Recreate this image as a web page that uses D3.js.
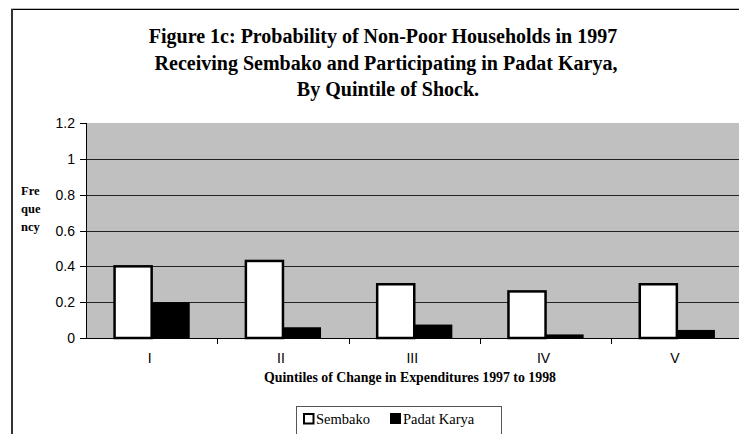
<html>
<head>
<meta charset="utf-8">
<title>Figure 1c</title>
<script src="https://d3js.org/d3.v7.min.js"></script>
<style>
  body { margin: 0; background: #fff; }
  .serif { font-family: "Liberation Serif", "DejaVu Serif", serif; }
  .sans { font-family: "Liberation Sans", Arial, sans-serif; }
</style>
</head>
<body>
<svg width="739" height="434"></svg>
<script>
// data
var quintiles = ["I", "II", "III", "IV", "V"];
var sembako = [0.40, 0.43, 0.30, 0.26, 0.30];
var padatKarya = [0.20, 0.06, 0.075, 0.02, 0.045];
var yTicks = [0, 0.2, 0.4, 0.6, 0.8, 1, 1.2];
var seriesNames = ["Sembako", "Padat Karya"];

var svg = d3.select("svg");

// outer frame
svg.append("line").attr("x1", 11).attr("x2", 739).attr("y1", 8.5).attr("y2", 8.5)
  .attr("stroke", "#bbb").attr("stroke-width", 1);
svg.append("line").attr("x1", 11).attr("x2", 739).attr("y1", 9.5).attr("y2", 9.5)
  .attr("stroke", "#000").attr("stroke-width", 1);
svg.append("line").attr("x1", 12).attr("x2", 12).attr("y1", 9).attr("y2", 434)
  .attr("stroke", "#333").attr("stroke-width", 2);

var x = d3.scaleBand().domain(quintiles).range([86, 742.5]).padding(0);
var y = d3.scaleLinear().domain([0, 1.2]).range([338, 123]);

// plot area
svg.append("rect").attr("x", 86).attr("y", y(1.2))
  .attr("width", 742.5 - 86).attr("height", y(0) - y(1.2))
  .attr("fill", "#c0c0c0");

// gridlines
svg.append("g").selectAll("line").data(yTicks.filter(function(d){ return d > 0 && d < 1.2; }))
  .enter().append("line")
  .attr("x1", 86).attr("x2", 742.5)
  .attr("y1", function(d){ return Math.round(y(d)) + 0.5; })
  .attr("y2", function(d){ return Math.round(y(d)) + 0.5; })
  .attr("stroke", "#222").attr("stroke-width", 1);

// bars
var bw = x.bandwidth() * 0.29;
var off = (x.bandwidth() - 2 * bw) / 2;
var bars = svg.append("g");
bars.selectAll("rect.padat").data(padatKarya).enter().append("rect")
  .attr("x", function(d, i){ return x(quintiles[i]) + off + bw; })
  .attr("y", function(d){ return y(d); })
  .attr("width", bw)
  .attr("height", function(d){ return y(0) - y(d); })
  .attr("fill", "#000");
bars.selectAll("rect.semb").data(sembako).enter().append("rect")
  .attr("x", function(d, i){ return x(quintiles[i]) + off + 1; })
  .attr("y", function(d){ return y(d); })
  .attr("width", bw - 1)
  .attr("height", function(d){ return y(0) - y(d); })
  .attr("fill", "#fff").attr("stroke", "#000").attr("stroke-width", 2.5);

// y axis
svg.append("line").attr("x1", 86.5).attr("x2", 86.5).attr("y1", y(1.2)).attr("y2", y(0))
  .attr("stroke", "#000");
svg.append("g").selectAll("line").data(yTicks).enter().append("line")
  .attr("x1", 80).attr("x2", 86)
  .attr("y1", function(d){ return Math.round(y(d)) + 0.5; })
  .attr("y2", function(d){ return Math.round(y(d)) + 0.5; })
  .attr("stroke", "#000");
svg.append("g").selectAll("text").data(yTicks).enter().append("text")
  .attr("class", "sans")
  .attr("x", 75).attr("y", function(d){ return y(d) + 5; })
  .attr("text-anchor", "end").attr("font-size", 14)
  .text(function(d){ return d; });

// x axis
svg.append("line").attr("x1", 86).attr("x2", 739).attr("y1", 338.5).attr("y2", 338.5)
  .attr("stroke", "#000");
svg.append("g").selectAll("line").data(quintiles.slice(1)).enter().append("line")
  .attr("x1", function(d){ return Math.round(x(d)) + 0.5; })
  .attr("x2", function(d){ return Math.round(x(d)) + 0.5; })
  .attr("y1", 338).attr("y2", 344)
  .attr("stroke", "#000");
svg.append("g").selectAll("text").data(quintiles).enter().append("text")
  .attr("class", "sans")
  .attr("x", function(d){ return x(d) + x.bandwidth() / 2 - 2; })
  .attr("y", 363)
  .attr("text-anchor", "middle").attr("font-size", 14)
  .text(function(d){ return d; });

// titles
var titleLines = ["Figure 1c: Probability of Non-Poor Households in 1997",
  "Receiving Sembako and Participating in Padat Karya,",
  "By Quintile of Shock."];
var titleX = [383, 386, 388];
svg.append("g").selectAll("text").data(titleLines).enter().append("text")
  .attr("class", "serif")
  .attr("x", function(d, i){ return titleX[i]; })
  .attr("y", function(d, i){ return 43 + i * 26.5; })
  .attr("text-anchor", "middle").attr("font-size", 20).attr("font-weight", "bold")
  .text(function(d){ return d; });

svg.append("text").attr("class", "serif")
  .attr("x", 410).attr("y", 382)
  .attr("text-anchor", "middle").attr("font-size", 14).attr("font-weight", "bold")
  .attr("textLength", 292).attr("lengthAdjust", "spacingAndGlyphs")
  .text("Quintiles of Change in Expenditures 1997 to 1998");

var yTitle = ["Fre", "que", "ncy"];
svg.append("g").selectAll("text").data(yTitle).enter().append("text")
  .attr("class", "serif")
  .attr("x", 21).attr("y", function(d, i){ return 195 + i * 18; })
  .attr("font-size", 12.5).attr("font-weight", "bold")
  .text(function(d){ return d; });

// legend
var lg = svg.append("g");
lg.append("rect").attr("x", 296.5).attr("y", 406.5).attr("width", 205).attr("height", 32)
  .attr("fill", "#fff").attr("stroke", "#555");
var lgX = [303, 390];
lg.selectAll("rect.key").data(seriesNames).enter().append("rect")
  .attr("x", function(d, i){ return lgX[i] + (i === 0 ? 1 : 0); })
  .attr("y", function(d, i){ return 413 + (i === 0 ? 1 : 0); })
  .attr("width", function(d, i){ return i === 0 ? 9.5 : 11; })
  .attr("height", function(d, i){ return i === 0 ? 9.5 : 11; })
  .attr("fill", function(d, i){ return i === 0 ? "#fff" : "#000"; })
  .attr("stroke", "#000").attr("stroke-width", function(d, i){ return i === 0 ? 2 : 0; });
lg.selectAll("text").data(seriesNames).enter().append("text")
  .attr("class", "serif")
  .attr("x", function(d, i){ return lgX[i] + 13; })
  .attr("y", 424)
  .attr("font-size", 14.5)
  .text(function(d){ return d; });
</script>
</body>
</html>
